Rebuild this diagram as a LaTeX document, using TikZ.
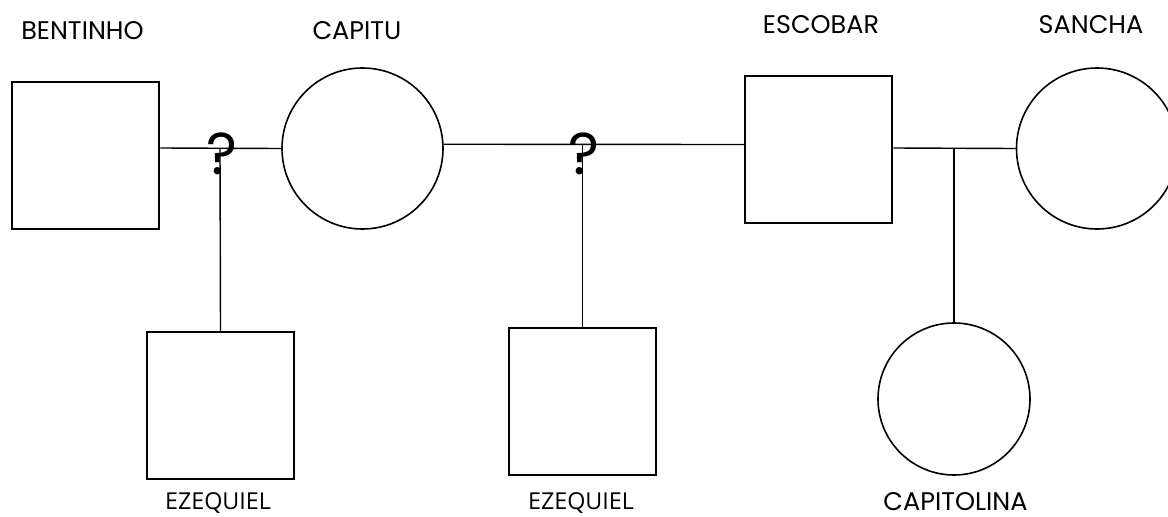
\documentclass[tikz,border=0pt]{standalone}
\usepackage{fontspec}
\setmainfont{Poppins}
\newfontfamily\ezfont{Open Sans}
\begin{document}
\begin{tikzpicture}[x=1pt,y=-1pt,
  male/.style={draw=black,line width=2.5pt,rectangle,minimum width=147pt,minimum height=147pt,inner sep=0pt},
  female/.style={draw=black,line width=1.6pt,circle,inner sep=0pt},
  link/.style={draw=black,line width=1.4pt},
  lbl/.style={anchor=base,inner sep=0pt,font=\fontsize{25.5}{27}\selectfont},
  ezlbl/.style={anchor=base,inner sep=0pt,font=\ezfont\fontsize{23.3}{25}\selectfont},
  qmark/.style={inner sep=0pt,font=\fontsize{59}{62}\selectfont}
]
\useasboundingbox (0,0) rectangle (1168,517);
\fill[white] (0,0) rectangle (1168,517);
% persons
\node[male] (bent) at (85.5,155.5) {};
\node[female,minimum size=161pt] (cap) at (362.5,148.5) {};
\node[male] (esc) at (818.5,149.5) {};
\node[female,minimum size=161pt] (san) at (1097,148.5) {};
\node[male] (ez1) at (220.5,405.5) {};
\node[male] (ez2) at (582.5,401.5) {};
\node[female,minimum size=152pt] (cpl) at (954,399) {};
% labels
\node[lbl] (lbent) at (82.5,39) {BENTINHO};
\node[lbl] (lcap) at (357,39) {CAPITU};
\node[lbl] (lesc) at (821,33) {ESCOBAR};
\node[lbl] (lsan) at (1091,33) {SANCHA};
\node[ezlbl] (lez1) at (218,509) {EZEQUIEL};
\node[ezlbl] (lez2) at (581,509) {EZEQUIEL};
\node[lbl] (lcpl) at (955.5,510) {CAPITOLINA};
% junctions
\coordinate (q1) at (220,148);
\coordinate (q2) at (582.5,144.5);
\coordinate (q3) at (954,148);
% connectors
\draw[link] (bent.east |- q1) -- (cap.west);
\draw[link] (cap.3) -- (esc.west |- q2);
\draw[link] (esc.east |- q3) -- (san.west);
\draw[link] (q1) -- (ez1.north);
\draw[link] (q2) -- (ez2.north);
\draw[link] (q3) -- (cpl.north);
% question marks
\node[qmark] (qm1) at (222,154) {?};
\node[qmark] (qm2) at (584,154) {?};
\end{tikzpicture}
\end{document}
